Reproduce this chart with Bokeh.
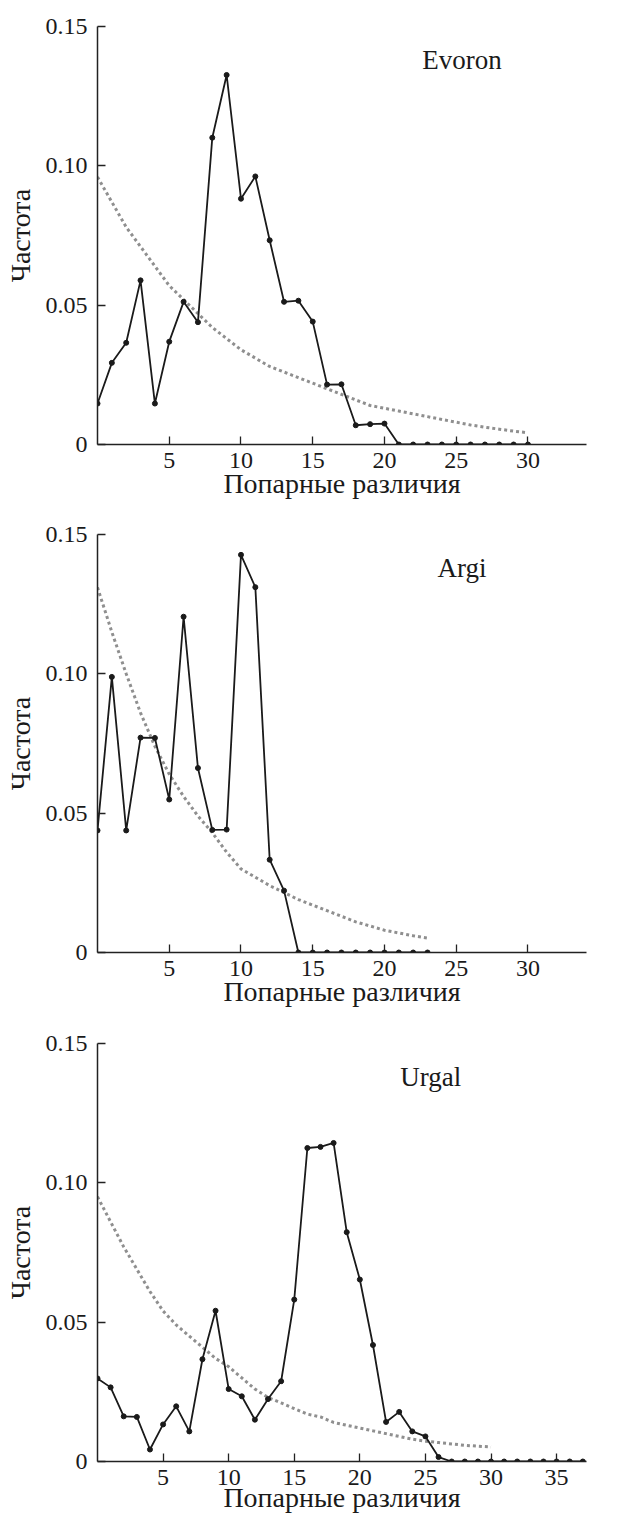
from bokeh.plotting import figure
from bokeh.layouts import column
from bokeh.models import Range1d, FixedTicker, Label
from bokeh.embed import file_html
from bokeh.resources import INLINE

FONT = "Liberation Serif"

# ---- data ----
x_evoron = list(range(31))
y_evoron = [0.0147, 0.0293, 0.0365, 0.0589, 0.0147, 0.0369, 0.0512, 0.0439, 0.1101, 0.1326,
            0.0882, 0.0962, 0.0733, 0.0512, 0.0516, 0.0441, 0.0215, 0.0216, 0.0069, 0.0073,
            0.0075, 0, 0, 0, 0, 0, 0, 0, 0, 0, 0]
exp_evoron = [0.096, 0.087, 0.078, 0.071, 0.064, 0.057, 0.052, 0.047, 0.042, 0.038,
              0.034, 0.031, 0.028, 0.026, 0.024, 0.022, 0.020, 0.018, 0.016, 0.014,
              0.013, 0.012, 0.011, 0.010, 0.009, 0.0080, 0.0070, 0.0062, 0.0055, 0.0048, 0.0042]

x_argi = list(range(24))
y_argi = [0.0438, 0.0989, 0.0438, 0.0771, 0.0770, 0.0549, 0.1205, 0.0662, 0.0440, 0.0441,
          0.1427, 0.1311, 0.0333, 0.0222, 0, 0, 0, 0, 0, 0, 0, 0, 0, 0]
exp_argi = [0.131, 0.115, 0.100, 0.086, 0.074, 0.064, 0.056, 0.049, 0.043, 0.036,
            0.030, 0.027, 0.024, 0.0215, 0.019, 0.017, 0.015, 0.013, 0.011, 0.0095,
            0.0080, 0.0070, 0.0060, 0.0052]

x_urgal = list(range(38))
y_urgal = [0.0298, 0.0266, 0.0162, 0.0160, 0.0043, 0.0133, 0.0198, 0.0108, 0.0367, 0.0541,
           0.0260, 0.0234, 0.0150, 0.0224, 0.0288, 0.0581, 0.1125, 0.1129, 0.1143, 0.0823,
           0.0653, 0.0418, 0.0142, 0.0178, 0.0108, 0.0090, 0.0016, 0, 0, 0,
           0, 0, 0, 0, 0, 0, 0, 0]
exp_urgal = [0.095, 0.086, 0.077, 0.069, 0.061, 0.054, 0.049, 0.045, 0.041, 0.037,
             0.034, 0.030, 0.026, 0.023, 0.021, 0.019, 0.017, 0.016, 0.014, 0.013,
             0.012, 0.011, 0.010, 0.009, 0.008, 0.0073, 0.0068, 0.0063, 0.0058, 0.0055, 0.0052]

y_ticks = [0, 0.05, 0.10, 0.15]
y_tick_labels = ["0", "0.05", "0.10", "0.15"]
x_ticks_short = [5, 10, 15, 20, 25, 30]
x_ticks_long = [5, 10, 15, 20, 25, 30, 35]
x_title = "Попарные различия"
y_title = "Частота"

INK = "#1a1a1a"


def make_panel(name, xs, ys, yexp, x_end, x_ticks, height, border_bottom, border_right,
               xlabel_standoff):
    p = figure(width=632, height=height, output_backend="svg", toolbar_location=None,
               x_range=Range1d(0, x_end), y_range=Range1d(0, 0.15),
               min_border_left=97, min_border_top=26,
               min_border_bottom=border_bottom, min_border_right=border_right)
    p.outline_line_color = None
    p.grid.visible = False
    p.background_fill_color = "white"
    p.border_fill_color = "white"

    xexp = list(range(len(yexp)))
    p.line(xexp, yexp, line_color="#8f8f8f", line_width=3, line_dash="3 3")
    p.line(xs, ys, line_color=INK, line_width=1.8)
    p.scatter(xs, ys, size=5, color=INK)

    p.add_layout(Label(x=25.4, y=0.138, text=name, text_font=FONT, text_font_size="27px",
                       text_align="center", text_baseline="alphabetic", text_color=INK))

    for ax in (p.xaxis[0], p.yaxis[0]):
        ax.axis_line_color = "#222222"
        ax.axis_line_width = 1.5
        ax.major_tick_line_color = "#222222"
        ax.major_tick_line_width = 1.3
        ax.major_tick_in = 8
        ax.major_tick_out = 0
        ax.minor_tick_line_color = None
        ax.major_label_text_font = FONT
        ax.major_label_text_font_size = "24px"
        ax.major_label_text_color = INK
        ax.axis_label_text_font = FONT
        ax.axis_label_text_font_size = "28px"
        ax.axis_label_text_font_style = "normal"
        ax.axis_label_text_color = INK

    p.xaxis.ticker = FixedTicker(ticks=x_ticks)
    p.yaxis.ticker = FixedTicker(ticks=y_ticks)
    p.yaxis.major_label_overrides = {t: l for t, l in zip(y_ticks, y_tick_labels)}
    p.xaxis.axis_label = x_title
    p.yaxis.axis_label = y_title
    p.xaxis.major_label_standoff = 8
    p.xaxis.axis_label_standoff = xlabel_standoff
    p.yaxis.major_label_standoff = 10
    p.yaxis.axis_label_standoff = 7
    return p


p1 = make_panel("Evoron", x_evoron, y_evoron, exp_evoron, 34.08, x_ticks_short, 508, 64, 46, -3)
p2 = make_panel("Argi", x_argi, y_argi, exp_argi, 34.08, x_ticks_short, 509, 65, 46, -3)
p3 = make_panel("Urgal", x_urgal, y_urgal, exp_urgal, 37.28, x_ticks_long, 504, 60, 0, -6)

layout = column(p1, p2, p3, spacing=0)
open("out.html", "w").write(file_html(layout, INLINE))
